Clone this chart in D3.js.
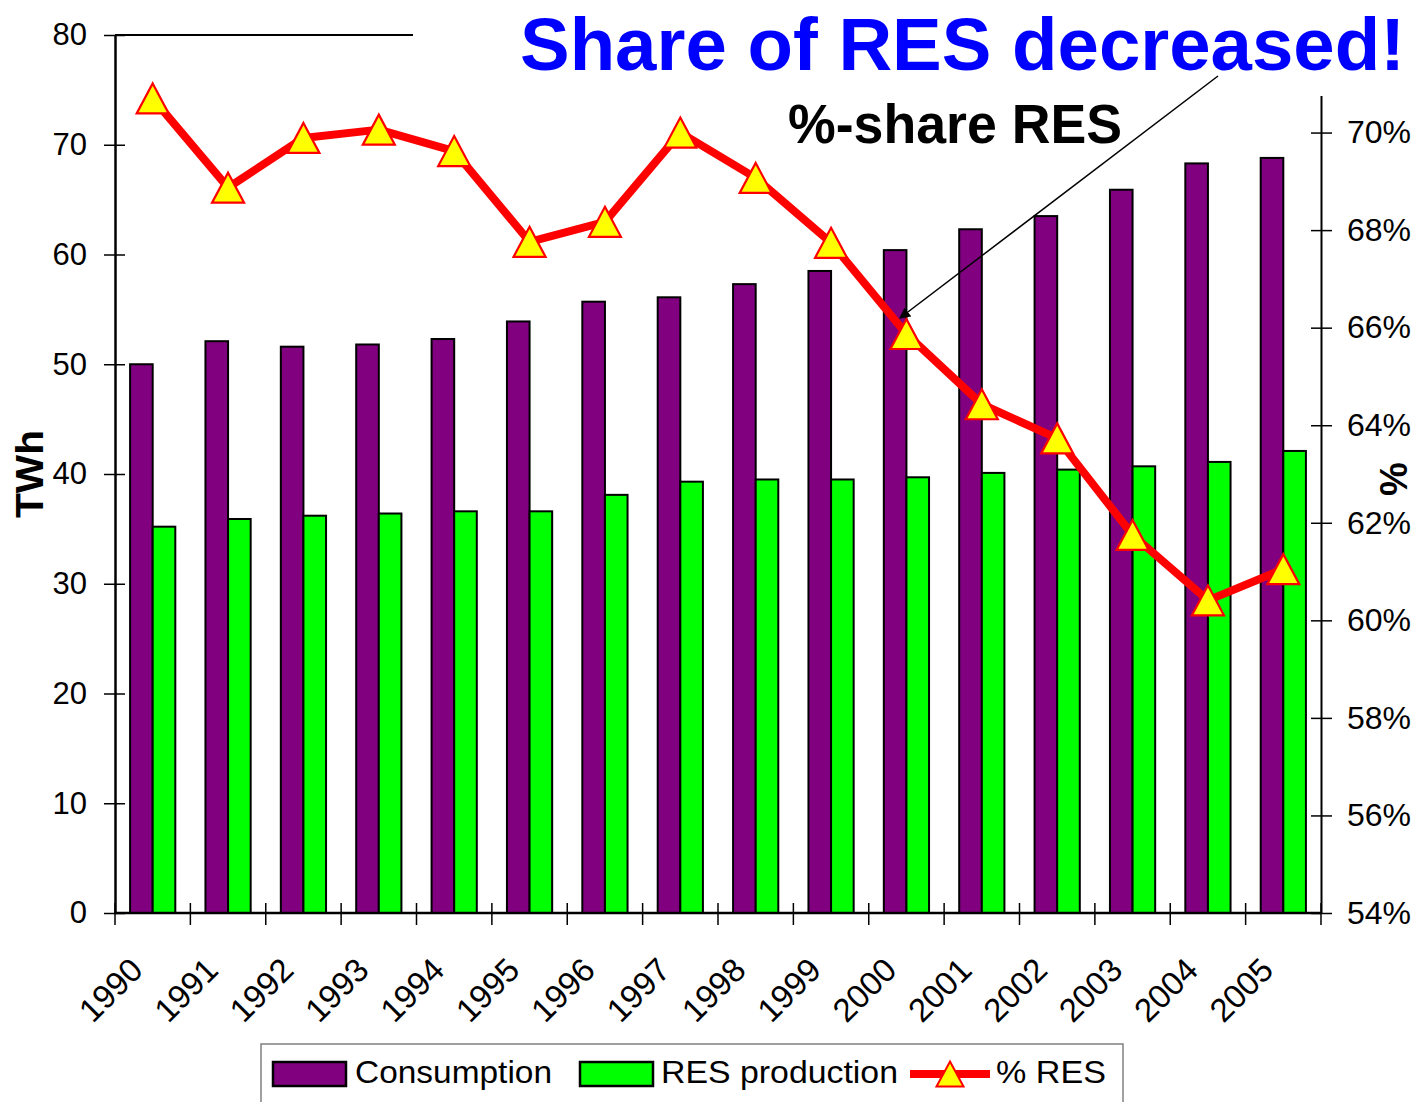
<!DOCTYPE html>
<html>
<head>
<meta charset="utf-8">
<script src="https://cdn.jsdelivr.net/npm/d3@7"></script>
<style>
  body { margin: 0; background: #fff; }
  svg { display: block; font-family: "Liberation Sans", Arial, sans-serif; }
</style>
</head>
<body>
<div id="chart"></div>
<script>
// data
var years = ["1990","1991","1992","1993","1994","1995","1996","1997","1998","1999","2000","2001","2002","2003","2004","2005"];
var consumption = [50.0, 52.1, 51.6, 51.8, 52.3, 53.9, 55.7, 56.1, 57.3, 58.5, 60.4, 62.3, 63.5, 65.9, 68.3, 68.8];
var resProduction = [35.2, 35.9, 36.2, 36.4, 36.6, 36.6, 38.1, 39.3, 39.5, 39.5, 39.7, 40.1, 40.4, 40.7, 41.1, 42.1];
var resShare = [70.7, 68.87, 69.89, 70.06, 69.62, 67.76, 68.17, 70.0, 69.07, 67.74, 65.87, 64.43, 63.73, 61.75, 60.41, 61.05];
var leftTicks = [0, 10, 20, 30, 40, 50, 60, 70, 80];
var rightTicks = [54, 56, 58, 60, 62, 64, 66, 68, 70];
var seriesNames = ["Consumption", "RES production"];
var seriesColors = ["#800080", "#00ff00"];

var W = 1417, H = 1102;
var margin = {left: 115, right: 96, top: 35, bottom: 189};
var plotW = W - margin.left - margin.right;
var plotH = H - margin.top - margin.bottom;

var svg = d3.select("#chart").append("svg")
  .attr("width", W).attr("height", H);

var g = svg.append("g")
  .attr("transform", "translate(" + margin.left + "," + margin.top + ")");

var x = d3.scaleBand().domain(years).range([0, plotW])
  .paddingInner(0.4).paddingOuter(0.2);
var xs = d3.scaleBand().domain(seriesNames).range([0, x.bandwidth()]);
var y = d3.scaleLinear().domain([0, 80]).range([plotH, 0]);
var y2 = d3.scaleLinear().domain([54, 72]).range([plotH, 0]);

// excel style triangle, centred on its box
function triangle(w, h) {
  return {
    draw: function(ctx) {
      ctx.moveTo(0, -h / 2);
      ctx.lineTo(w / 2, h / 2);
      ctx.lineTo(-w / 2, h / 2);
      ctx.closePath();
    }
  };
}

// bars
var bars = [consumption, resProduction];
bars.forEach(function(vals, s) {
  g.selectAll(".bar" + s)
    .data(vals)
    .enter().append("rect")
    .attr("x", function(d, i) { return x(years[i]) + xs(seriesNames[s]); })
    .attr("y", function(d) { return y(d); })
    .attr("width", xs.bandwidth())
    .attr("height", function(d) { return plotH - y(d); })
    .attr("fill", seriesColors[s])
    .attr("stroke", "#000")
    .attr("stroke-width", 2);
});

// left axis
var yAxis = d3.axisLeft(y).tickValues(leftTicks).tickSize(11).tickSizeOuter(0).tickPadding(17);
var ga = g.append("g").call(yAxis);
ga.select(".domain").attr("stroke-width", 2.5);
ga.selectAll(".tick line").attr("stroke-width", 1.5).attr("x2", 10).attr("x1", -11);
ga.selectAll("text").attr("font-size", 31).attr("fill", "#000")
  .attr("font-family", "'Liberation Sans', Arial, sans-serif");

// right axis (the 72% end is hidden under the title box)
var y2Axis = d3.axisRight(y2).tickValues(rightTicks).tickSize(11).tickSizeOuter(0)
  .tickPadding(15).tickFormat(function(d) { return d + "%"; });
var gr = g.append("g").attr("transform", "translate(" + plotW + ",0)").call(y2Axis);
gr.select(".domain").attr("stroke-width", 2);
gr.selectAll(".tick line").attr("stroke-width", 1.5).attr("x1", -10).attr("x2", 11);
gr.selectAll("text").attr("font-size", 32).attr("fill", "#000")
  .attr("font-family", "'Liberation Sans', Arial, sans-serif");

// x axis line and ticks at category boundaries
g.append("line").attr("x1", 0).attr("x2", plotW).attr("y1", plotH).attr("y2", plotH)
  .attr("stroke", "#000").attr("stroke-width", 2.5);
var step = x.step();
g.selectAll(".xtick").data(d3.range(years.length + 1)).enter().append("line")
  .attr("x1", function(i) { return i * step; })
  .attr("x2", function(i) { return i * step; })
  .attr("y1", plotH - 10).attr("y2", plotH + 12)
  .attr("stroke", "#000").attr("stroke-width", 1.5);
g.selectAll(".xlabel").data(years).enter().append("text")
  .attr("transform", function(d) {
    return "translate(" + (x(d) + x.bandwidth() / 2 - 8) + "," + (plotH + 59) + ") rotate(-45)";
  })
  .attr("text-anchor", "end")
  .attr("font-size", 33)
  .text(function(d) { return d; });

// top border of plot area
g.append("line").attr("x1", 0).attr("x2", plotW).attr("y1", 0).attr("y2", 0)
  .attr("stroke", "#000").attr("stroke-width", 2);

// % RES line
var cx = function(i) { return x(years[i]) + x.bandwidth() / 2; };
var line = d3.line()
  .x(function(d, i) { return cx(i); })
  .y(function(d) { return y2(d); });
g.append("path")
  .attr("d", line(resShare))
  .attr("fill", "none")
  .attr("stroke", "#ff0000")
  .attr("stroke-width", 8)
  .attr("stroke-linejoin", "round");

var tri = d3.symbol().type(triangle(32, 30));
g.selectAll(".marker").data(resShare).enter().append("path")
  .attr("d", tri)
  .attr("transform", function(d, i) { return "translate(" + cx(i) + "," + y2(d) + ")"; })
  .attr("fill", "#ffff00")
  .attr("stroke", "#ff0000")
  .attr("stroke-width", 2.2);

// axis titles
svg.append("text")
  .attr("transform", "translate(43,474) rotate(-90)")
  .attr("text-anchor", "middle")
  .attr("font-size", 39).attr("font-weight", "bold")
  .attr("textLength", 88).attr("lengthAdjust", "spacingAndGlyphs")
  .text("TWh");
svg.append("text")
  .attr("transform", "translate(1407,479) rotate(-90)")
  .attr("text-anchor", "middle")
  .attr("font-size", 38).attr("font-weight", "bold")
  .text("%");

// title box (white fill covers the top of the plot frame)
svg.append("rect").attr("x", 413).attr("y", 0).attr("width", W - 413).attr("height", 96)
  .attr("fill", "#fff");
svg.append("text")
  .attr("x", 520).attr("y", 70)
  .attr("font-size", 75).attr("font-weight", "bold")
  .attr("fill", "#0000ff")
  .attr("textLength", 885).attr("lengthAdjust", "spacingAndGlyphs")
  .text("Share of RES decreased!");
svg.append("text")
  .attr("x", 788).attr("y", 143)
  .attr("font-size", 55).attr("font-weight", "bold")
  .attr("textLength", 334).attr("lengthAdjust", "spacingAndGlyphs")
  .text("%-share RES");

// arrow to the 2000 point
svg.append("defs").append("marker")
  .attr("id", "ah").attr("viewBox", "0 0 10 10")
  .attr("refX", 9).attr("refY", 5)
  .attr("markerWidth", 11).attr("markerHeight", 11)
  .attr("markerUnits", "userSpaceOnUse")
  .attr("orient", "auto")
  .append("path").attr("d", "M0,0 L10,5 L0,10 z").attr("fill", "#000");
svg.append("line")
  .attr("x1", 1218).attr("y1", 76)
  .attr("x2", 900).attr("y2", 318)
  .attr("stroke", "#000").attr("stroke-width", 1.5)
  .attr("marker-end", "url(#ah)");

// legend
var lg = svg.append("g");
lg.append("rect").attr("x", 261).attr("y", 1044).attr("width", 862).attr("height", 70)
  .attr("fill", "#fff").attr("stroke", "#808080").attr("stroke-width", 1.5);
var legItems = [
  {name: seriesNames[0], color: seriesColors[0], sx: 273, tx: 355},
  {name: seriesNames[1], color: seriesColors[1], sx: 580, tx: 661}
];
legItems.forEach(function(it) {
  lg.append("rect").attr("x", it.sx).attr("y", 1062).attr("width", 73).attr("height", 24)
    .attr("fill", it.color).attr("stroke", "#000").attr("stroke-width", 2.5);
  lg.append("text").attr("x", it.tx).attr("y", 1083).attr("font-size", 31)
    .attr("textLength", it.name === "Consumption" ? 197 : 237)
    .attr("lengthAdjust", "spacingAndGlyphs")
    .text(it.name);
});
lg.append("line").attr("x1", 910).attr("x2", 990).attr("y1", 1074).attr("y2", 1074)
  .attr("stroke", "#ff0000").attr("stroke-width", 8);
lg.append("path").attr("d", d3.symbol().type(triangle(27, 25)))
  .attr("transform", "translate(950,1074)")
  .attr("fill", "#ffff00").attr("stroke", "#ff0000").attr("stroke-width", 2);
lg.append("text").attr("x", 996).attr("y", 1083).attr("font-size", 31)
  .attr("textLength", 110).attr("lengthAdjust", "spacingAndGlyphs")
  .text("% RES");
</script>
</body>
</html>
